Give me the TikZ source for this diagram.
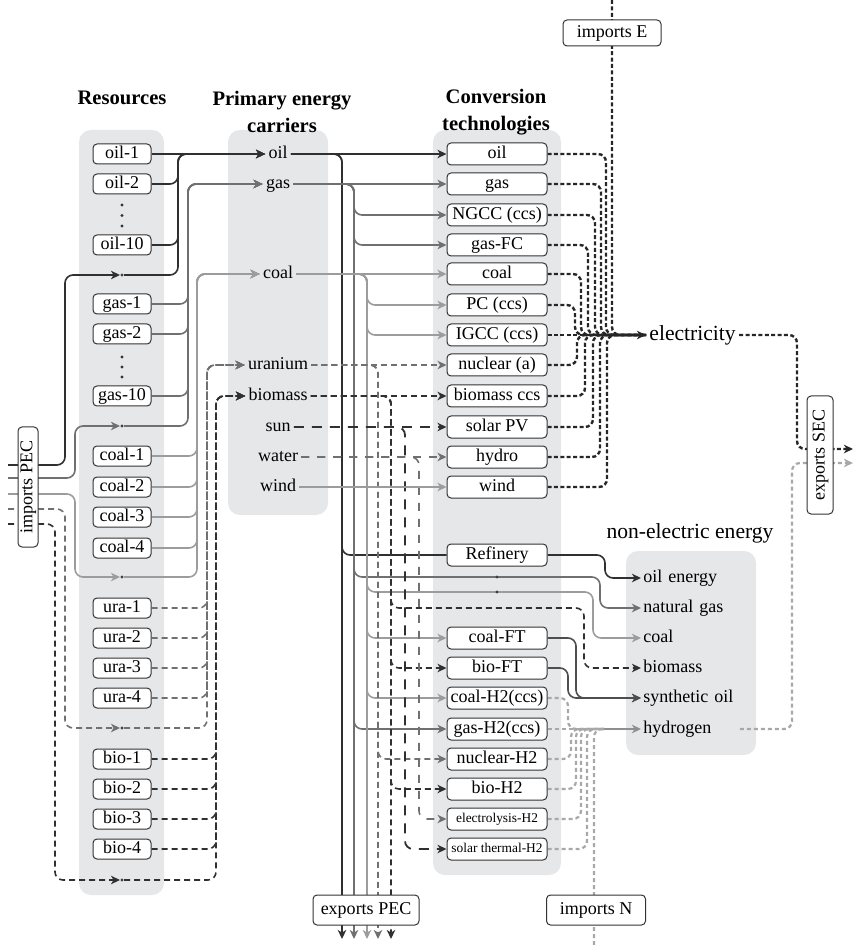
\documentclass[tikz,border=0pt]{standalone}
\usepackage{fontspec}
\setmainfont{Liberation Serif}
\usepackage{tikz}
\usetikzlibrary{arrows.meta,positioning,calc}
\definecolor{darkflow}{HTML}{303030}
\definecolor{synflow}{HTML}{4E4E4E}
\definecolor{midflow}{HTML}{707070}
\definecolor{lightflow}{HTML}{9C9C9C}
\definecolor{hflow}{HTML}{A8A8A8}
\definecolor{panelgray}{HTML}{E6E7E8}
\newcommand{\boxfont}{\fontsize{9}{10}\selectfont}
\newcommand{\tinyboxfont}{\fontsize{6.7}{8}\selectfont}
\newcommand{\headfont}{\fontsize{10.3}{13.5}\selectfont\bfseries}
\newcommand{\bigfont}{\fontsize{10.8}{12}\selectfont}
\pgfdeclarelayer{bg}
\pgfdeclarelayer{flows}
\pgfsetlayers{bg,flows,main}

\begin{document}
\begin{tikzpicture}[
    x=0.5pt, y=-0.5pt,
    >={Stealth[length=4.5pt,width=4.2pt,inset=1.3pt]},
    panel/.style={fill=panelgray, rounded corners=6pt},
    res/.style={draw=black!80, fill=white, rounded corners=2pt, line width=0.5pt, minimum width=29pt, minimum height=10pt, inner sep=0pt, font=\boxfont, text height=6.3pt, text depth=1.8pt},
    conv/.style={res, minimum width=50pt, minimum height=11pt},
    small/.style={font=\tinyboxfont, text height=4.8pt, text depth=1.3pt},
    port/.style={res, minimum height=13pt, inner sep=2pt},
    carrier/.style={inner sep=1.5pt, font=\boxfont, text height=6.3pt, text depth=1.8pt},
    item/.style={anchor=west, inner sep=1pt, text width=47pt, font=\boxfont, text height=6.3pt, text depth=1.8pt},
    head/.style={align=center, font=\headfont},
    pt/.style={circle, fill=black!75, inner sep=0pt, minimum size=1.6pt},
    flow/.style={line width=0.8pt, rounded corners=4pt},
    oilf/.style={flow, darkflow},
    gasf/.style={flow, midflow},
    coalf/.style={flow, lightflow},
    synf/.style={flow, synflow},
    uraf/.style={flow, midflow, dash pattern=on 3pt off 2pt},
    biof/.style={flow, darkflow, dash pattern=on 3pt off 2pt},
    sunf/.style={flow, darkflow, line width=0.9pt, dash pattern=on 5pt off 4pt},
    waterf/.style={flow, midflow, dash pattern=on 4pt off 4pt},
    elecf/.style={flow, black!85, line width=1.2pt, dash pattern=on 2pt off 1.2pt},
    hf/.style={flow, hflow, line width=1.1pt, dash pattern=on 2pt off 1.5pt},
]
    \useasboundingbox (0,0) rectangle (857,945);

    % grey columns
    \begin{pgfonlayer}{bg}
        \fill[panel] (79,130) rectangle (164,895);
        \fill[panel] (228,130) rectangle (328,515);
        \fill[panel] (433,130) rectangle (561,875);
        \fill[panel] (626,551) rectangle (756,755);
    \end{pgfonlayer}

    % headings
    \node[head] (h-res) at (122,98) {Resources};
    \node[head] (h-pec) at (282,112) {Primary energy\\carriers};
    \node[head] (h-conv) at (496,112) {Conversion\\technologies};
    \node[font=\bigfont] (h-ne) at (690,533) {non-electric energy};

    % resources
    \foreach \n/\y in {oil-1/154, oil-2/184, oil-10/245, gas-1/304, gas-2/334, gas-10/396,
        coal-1/456, coal-2/487, coal-3/517, coal-4/548, ura-1/608, ura-2/638, ura-3/668, ura-4/698,
        bio-1/759, bio-2/789, bio-3/819, bio-4/849}
        \node[res] (\n) at (122,\y) {\n};
    \foreach \y in {205,215.5,226,357,367,377}
        \fill[black!80] (122,\y) circle (0.8pt);
    \node[pt] (imp-oil) at (122,275) {};
    \node[pt] (imp-gas) at (122,426) {};
    \node[pt] (imp-coal) at (122,577) {};
    \node[pt] (imp-ura) at (122,728) {};
    \node[pt] (imp-bio) at (122,880) {};

    % primary energy carriers
    \foreach \n/\y in {oil/154, gas/184, coal/274, uranium/365, biomass/396, sun/427, water/457, wind/487}
        \node[carrier] (\n) at (278,\y) {\n};

    % conversion technologies
    \foreach \n/\tx/\y in {t-oil/oil/154, t-gas/gas/184, ngcc/NGCC (ccs)/215, gasfc/gas-FC/245,
        t-coal/coal/274, pc/PC (ccs)/305, igcc/IGCC (ccs)/335, nuc/nuclear (a)/365,
        bioccs/biomass ccs/396, pv/solar PV/427, hydro/hydro/457, t-wind/wind/487,
        ref/Refinery/555, coalft/coal-FT/638, bioft/bio-FT/668, coalh2/coal-H2(ccs)/698,
        gash2/gas-H2(ccs)/729, nuch2/nuclear-H2/759, bioh2/bio-H2/789}
        \node[conv] (\n) at (497,\y) {\tx};
    \node[conv, small] (elyh2) at (497,819) {electrolysis-H2};
    \node[conv, small] (sth2) at (497,849) {solar thermal-H2};
    \node[pt] (dot-ng) at (497,577) {};
    \node[pt] (dot-co) at (497,592) {};

    % final energy
    \node[font=\bigfont, anchor=west, inner sep=1.5pt] (elec) at (646,335) {electricity};
    \foreach \n/\tx/\y in {n-oil/oil energy/578, n-gas/natural gas/608, n-coal/coal/638,
        n-bio/biomass/668, n-syn/synthetic oil/698, n-hyd/hydrogen/729}
        \node[item] (\n) at (641,\y) {\tx};

    % imports and exports
    \node[port, rotate=90, minimum width=60pt, minimum height=10pt, inner sep=0pt] (imp-pec) at (28,487) {imports PEC};
    \node[port, minimum width=53pt, minimum height=15pt] (exp-pec) at (366,910) {exports PEC};
    \node[port, minimum width=49.5pt, minimum height=15pt] (imp-n) at (596,910) {imports N};
    \node[port, minimum width=49pt] (imp-e) at (612,33) {imports E};
    \node[port, rotate=90, minimum width=59pt] (exp-sec) at (820,455) {exports SEC};

    \coordinate (pec-oil) at (8,465);
    \coordinate (pec-gas) at (8,478);
    \coordinate (pec-coal) at (8,494);
    \coordinate (pec-ura) at (8,509);
    \coordinate (pec-bio) at (8,524);
    \coordinate (out-oil) at (342,939);
    \coordinate (out-gas) at (354,939);
    \coordinate (out-coal) at (367,939);
    \coordinate (out-ura) at (378,939);
    \coordinate (out-bio) at (391,939);
    \coordinate (in-e) at (612,0);
    \coordinate (e-merge) at (612,335);
    \coordinate (in-n) at (594,945);
    \coordinate (h-merge) at (604,729);
    \coordinate (out-e) at (853,449);
    \coordinate (out-h) at (853,463);

    \begin{pgfonlayer}{flows}
    % imports PEC
    \draw[oilf,->] (pec-oil) -| (65,275) -- (imp-oil);
    \draw[gasf,->] (pec-gas) -| (75,426) -- (imp-gas);
    \draw[coalf,->] (pec-coal) -| (75,577) -- (imp-coal);
    \draw[uraf,->] (pec-ura) -| (65,728) -- (imp-ura);
    \draw[biof,->] (pec-bio) -| (55,880) -- (imp-bio);

    % resources to carriers
    \draw[oilf,->] (oil-1) -- (oil);
    \foreach \s in {oil-2,oil-10,imp-oil}
        \draw[oilf,->] (\s.east) -| (178,154) -- (oil);
    \foreach \s in {gas-1,gas-2,gas-10,imp-gas}
        \draw[gasf,->] (\s.east) -| (188,184) -- (gas);
    \foreach \s in {coal-1,coal-2,coal-3,coal-4,imp-coal}
        \draw[coalf,->] (\s.east) -| (197,274) -- (coal);
    \foreach \s in {ura-1,ura-2,ura-3,ura-4,imp-ura}
        \draw[uraf,->] (\s.east) -| (207,365) -- (uranium);
    \foreach \s in {bio-1,bio-2,bio-3,bio-4,imp-bio}
        \draw[biof,->] (\s.east) -| (216,396) -- (biomass);

    % carriers to technologies
    \draw[oilf,->] (oil) -- (t-oil);
    \draw[oilf] (oil.east) -| (342,555) -- (ref);
    \draw[oilf,->] (oil.east) -| (out-oil);

    \draw[gasf,->] (gas) -- (t-gas);
    \foreach \tg/\y in {ngcc/215, gasfc/245, gash2/729}
        \draw[gasf,->] (gas.east) -| (354,\y) -- (\tg);
    \draw[gasf,->] (gas.east) -| (354,577) -- (dot-ng.center) -- (600,577) |- (n-gas);
    \draw[gasf,->] (gas.east) -| (out-gas);

    \draw[coalf,->] (coal) -- (t-coal);
    \foreach \tg/\y in {pc/305, igcc/335, coalft/638, coalh2/698}
        \draw[coalf,->] (coal.east) -| (367,\y) -- (\tg);
    \draw[coalf,->] (coal.east) -| (367,592) -- (dot-co.center) -- (593,592) |- (n-coal);
    \draw[coalf,->] (coal.east) -| (out-coal);

    \draw[uraf,->] (uranium) -- (nuc);
    \draw[uraf,->] (uranium.east) -| (378,759) -- (nuch2);
    \draw[uraf,->] (uranium.east) -| (out-ura);

    \draw[biof,->] (biomass) -- (bioccs);
    \foreach \tg/\y in {bioft/668, bioh2/789}
        \draw[biof,->] (biomass.east) -| (391,\y) -- (\tg);
    \draw[biof,->] (biomass.east) -| (391,608) -- (584,608) |- (n-bio);
    \draw[biof,->] (biomass.east) -| (out-bio);

    \draw[sunf,->] (sun) -- (pv);
    \draw[sunf,->] (sun.east) -| (405,849) -- (sth2);
    \draw[waterf,->] (water) -- (hydro);
    \draw[waterf,->] (water.east) -| (419,819) -- (elyh2);
    \draw[coalf,->] (wind) -- (t-wind);

    % technologies to electricity
    \foreach \tg/\x in {t-oil/606, t-gas/601, ngcc/595, gasfc/588, t-coal/581, pc/575,
        nuc/577, bioccs/585, pv/593, hydro/600, t-wind/607}
        \draw[elecf] (\tg) -| (\x,335) -- (elec);
    \draw[elecf] (igcc) -- (elec);
    \draw[elecf] (in-e) |- (elec);
    \draw[black!85, line width=1.4pt, ->] (e-merge) -- (elec);
    \draw[elecf,->] (elec) -| (797,449) -- (out-e);

    % technologies to non-electric energy
    \draw[oilf,->] (ref) -- (605,555) |- (n-oil);
    \draw[synf,->] (coalft) -- (576,638) |- (n-syn);
    \draw[synf,->] (bioft) -- (568,668) |- (n-syn);
    \foreach \tg/\x in {coalh2/568, nuch2/571, bioh2/576, elyh2/581, sth2/587}
        \draw[hf] (\tg) -| (\x,729) -- (h-merge);
    \draw[hf] (gash2) -- (h-merge);
    \draw[hf] (in-n) |- (h-merge);
    \draw[flow, hflow!85!black, line width=1.1pt, ->] (h-merge) -- (n-hyd);
    \draw[hf,->] (n-hyd.east) -| (792,463) -- (out-h);
    \end{pgfonlayer}
\end{tikzpicture}
\end{document}
